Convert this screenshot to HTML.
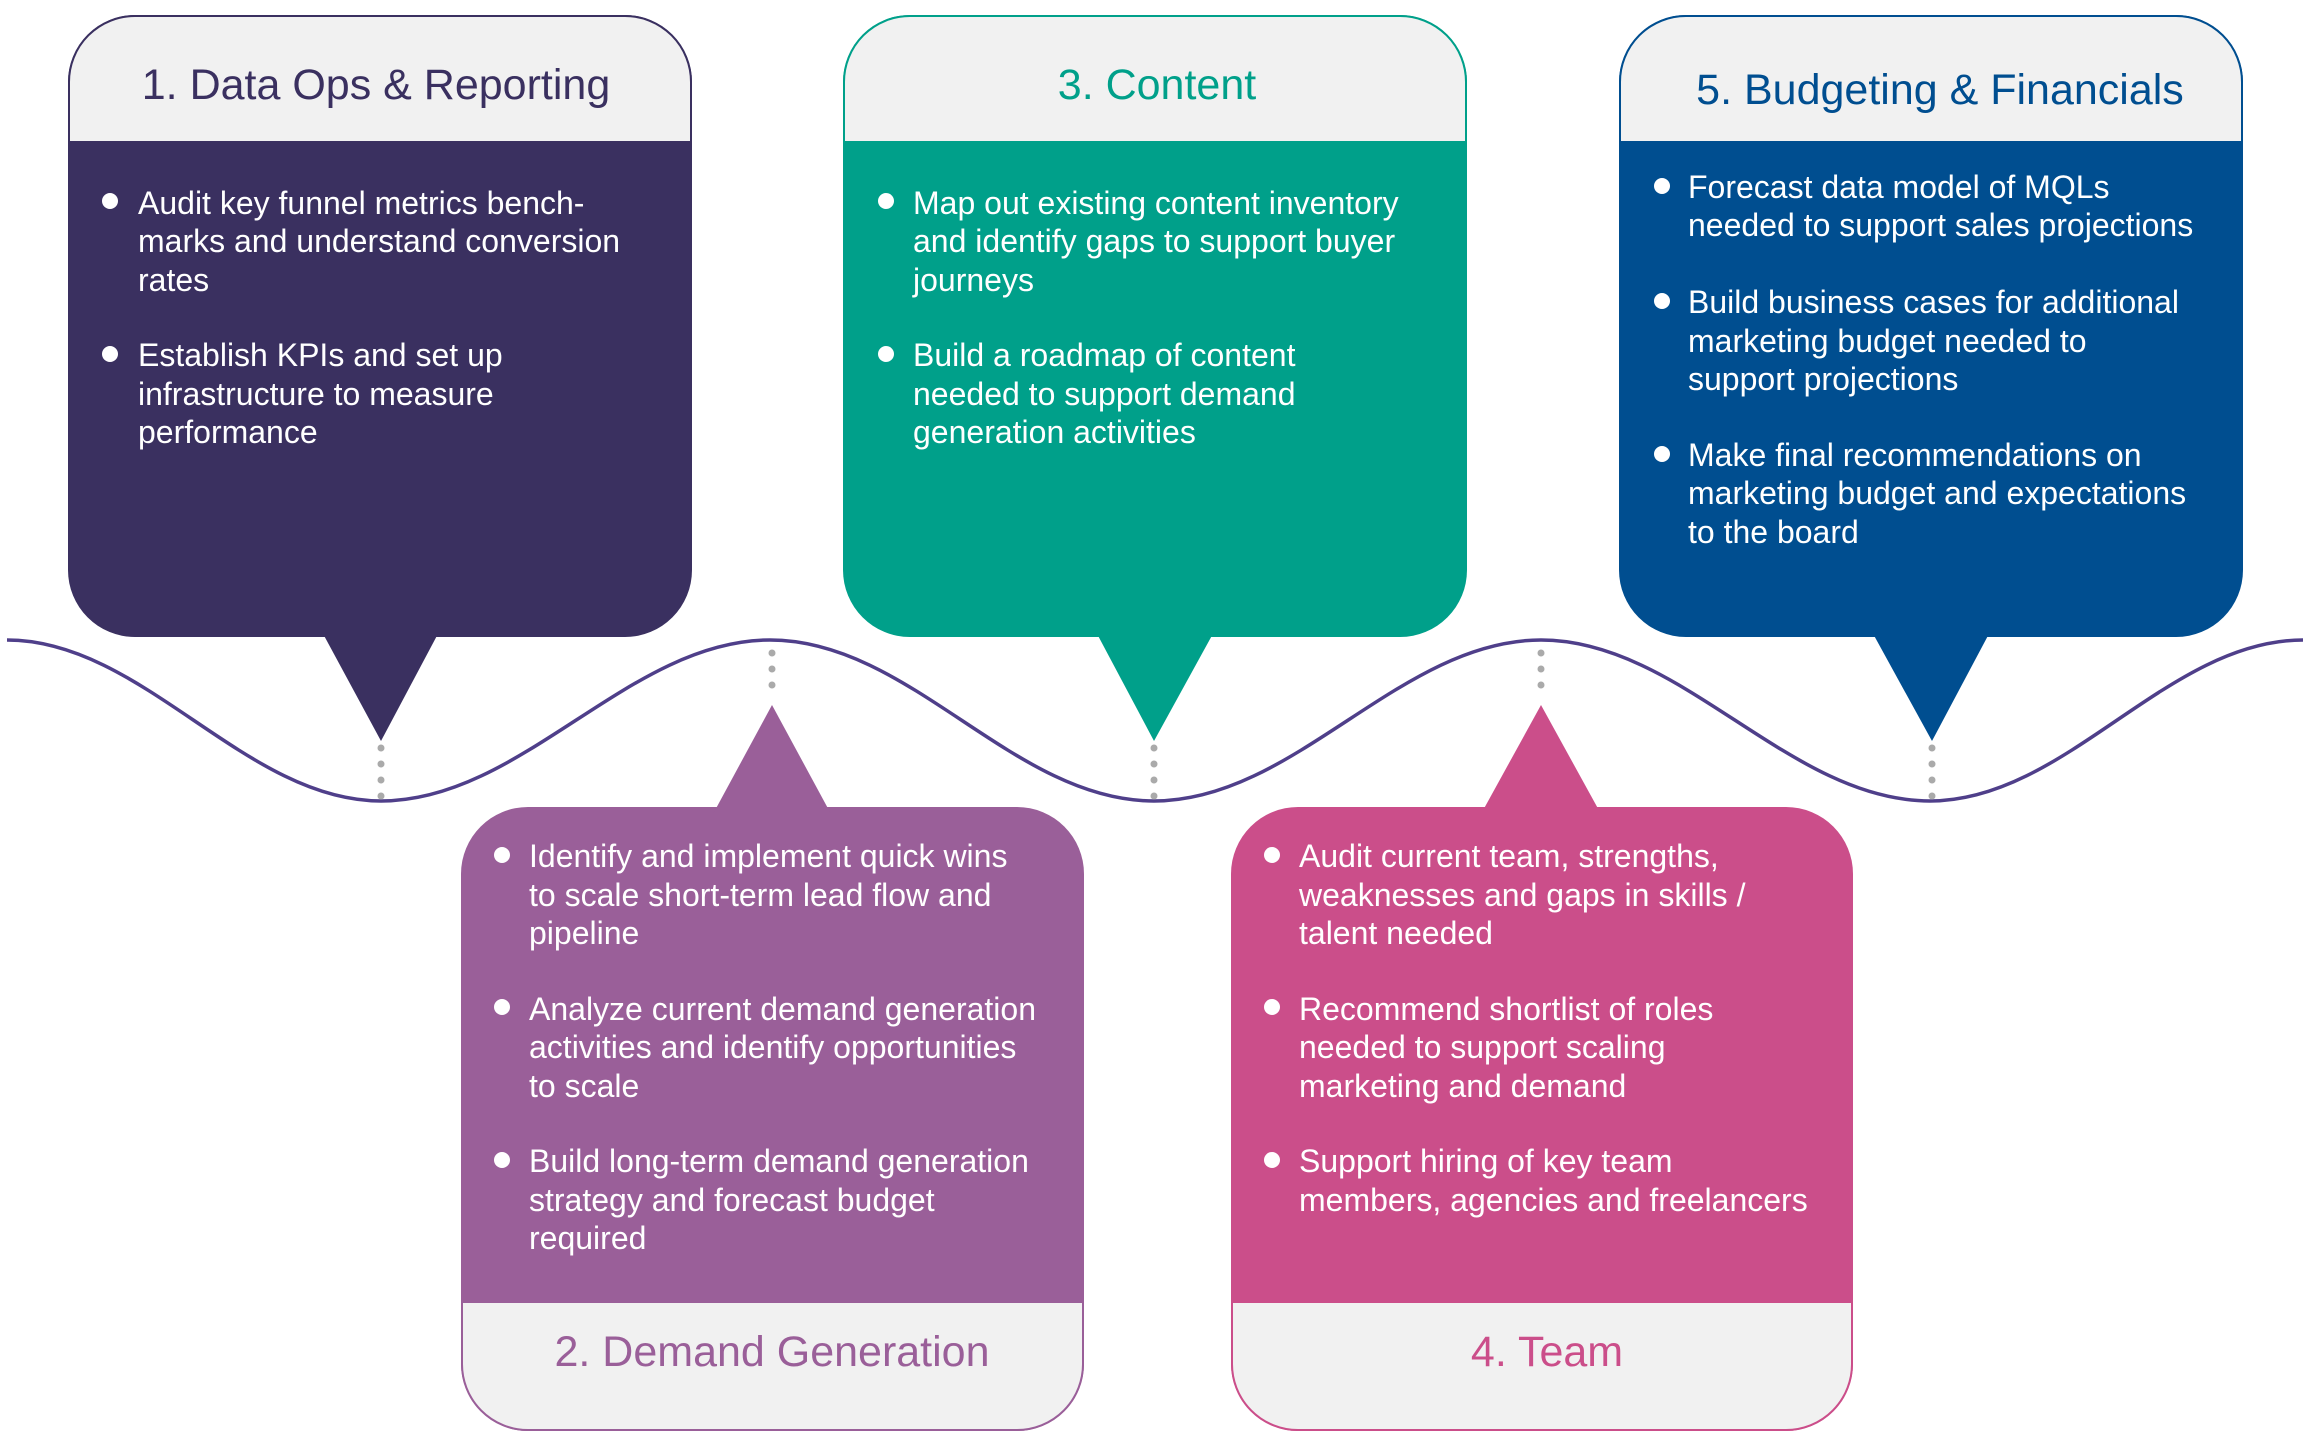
<!DOCTYPE html>
<html><head><meta charset="utf-8"><style>
html,body{margin:0;padding:0;background:#fff;}
svg{display:block;}
text{font-family:"Liberation Sans",sans-serif;}
.b{fill:#fff;font-size:32px;}
.t{font-size:43px;text-anchor:middle;}
</style></head><body>
<svg width="2311" height="1440" viewBox="0 0 2311 1440" xmlns="http://www.w3.org/2000/svg">
<path d="M7,640 C143,640 245,801 381,801 C522,801 629,640 770,640 C911,640 1013,801 1154,801 C1295,801 1400,640 1541,640 C1682,640 1789,801 1930,801 C2066,801 2167,640 2303,640" fill="none" stroke="#4f3f8a" stroke-width="3.5"/>
<g fill="#aaa">
<circle cx="381" cy="748" r="3.5"/><circle cx="381" cy="764" r="3.5"/><circle cx="381" cy="780" r="3.5"/><circle cx="381" cy="796" r="3.5"/>
<circle cx="1154" cy="748" r="3.5"/><circle cx="1154" cy="764" r="3.5"/><circle cx="1154" cy="780" r="3.5"/><circle cx="1154" cy="796" r="3.5"/>
<circle cx="1932" cy="748" r="3.5"/><circle cx="1932" cy="764" r="3.5"/><circle cx="1932" cy="780" r="3.5"/><circle cx="1932" cy="796" r="3.5"/>
<circle cx="772" cy="653" r="3.5"/><circle cx="772" cy="669" r="3.5"/><circle cx="772" cy="685" r="3.5"/>
<circle cx="1541" cy="653" r="3.5"/><circle cx="1541" cy="669" r="3.5"/><circle cx="1541" cy="685" r="3.5"/>
</g>

<rect x="68" y="15" width="624" height="622" rx="67" fill="#3a3060"/>
<polygon points="321,630 440,630 381,741" fill="#3a3060"/>
<path d="M69,142 V82 A66,66 0 0 1 135,16 H625 A66,66 0 0 1 691,82 V142 Z" fill="#f1f1f1" stroke="#3a3060" stroke-width="2"/>
<text class="t" x="376" y="99" fill="#3a3060">1. Data Ops &amp; Reporting</text>
<circle cx="110" cy="201" r="8" fill="#fff"/><circle cx="110" cy="354" r="8" fill="#fff"/>
<text class="b" x="138" y="214">Audit key funnel metrics bench-</text>
<text class="b" x="138" y="252">marks and understand conversion</text>
<text class="b" x="138" y="291">rates</text>
<text class="b" x="138" y="366">Establish KPIs and set up</text>
<text class="b" x="138" y="405">infrastructure to measure</text>
<text class="b" x="138" y="443">performance</text>

<rect x="843" y="15" width="624" height="622" rx="67" fill="#00a08a"/>
<polygon points="1095,630 1215,630 1154,741" fill="#00a08a"/>
<path d="M844,142 V82 A66,66 0 0 1 910,16 H1400 A66,66 0 0 1 1466,82 V142 Z" fill="#f1f1f1" stroke="#00a08a" stroke-width="2"/>
<text class="t" x="1157" y="99" fill="#00a08a">3. Content</text>
<circle cx="886" cy="201" r="8" fill="#fff"/><circle cx="886" cy="354" r="8" fill="#fff"/>
<text class="b" x="913" y="214">Map out existing content inventory</text>
<text class="b" x="913" y="252">and identify gaps to support buyer</text>
<text class="b" x="913" y="291">journeys</text>
<text class="b" x="913" y="366">Build a roadmap of content</text>
<text class="b" x="913" y="405">needed  to support demand</text>
<text class="b" x="913" y="443">generation activities</text>

<rect x="1619" y="15" width="624" height="622" rx="67" fill="#004e90"/>
<polygon points="1871,630 1991,630 1932,741" fill="#004e90"/>
<path d="M1620,142 V82 A66,66 0 0 1 1686,16 H2176 A66,66 0 0 1 2242,82 V142 Z" fill="#f1f1f1" stroke="#004e90" stroke-width="2"/>
<text class="t" x="1940" y="104" fill="#004e90">5. Budgeting &amp; Financials</text>
<circle cx="1662" cy="186" r="8" fill="#fff"/><circle cx="1662" cy="301" r="8" fill="#fff"/><circle cx="1662" cy="454" r="8" fill="#fff"/>
<text class="b" x="1688" y="198">Forecast data model of MQLs</text>
<text class="b" x="1688" y="236">needed to support sales projections</text>
<text class="b" x="1688" y="313">Build business cases for additional</text>
<text class="b" x="1688" y="352">marketing budget needed to</text>
<text class="b" x="1688" y="390">support projections</text>
<text class="b" x="1688" y="466">Make final recommendations on</text>
<text class="b" x="1688" y="504">marketing budget and expectations</text>
<text class="b" x="1688" y="543">to the board</text>

<rect x="461" y="807" width="623" height="624" rx="67" fill="#9a5f99"/>
<polygon points="713,814 831,814 772,705" fill="#9a5f99"/>
<path d="M462,1302 V1363 A66,66 0 0 0 528,1430 H1017 A66,66 0 0 0 1083,1363 V1302 Z" fill="#f1f1f1" stroke="#9a5f99" stroke-width="2"/>
<text class="t" x="772" y="1366" fill="#9a5f99">2. Demand Generation</text>
<circle cx="502" cy="855" r="8" fill="#fff"/><circle cx="502" cy="1007" r="8" fill="#fff"/><circle cx="502" cy="1160" r="8" fill="#fff"/>
<text class="b" x="529" y="867">Identify and implement quick wins</text>
<text class="b" x="529" y="906">to scale short-term lead flow and</text>
<text class="b" x="529" y="944">pipeline</text>
<text class="b" x="529" y="1020">Analyze current demand generation</text>
<text class="b" x="529" y="1058">activities and identify opportunities</text>
<text class="b" x="529" y="1097">to scale</text>
<text class="b" x="529" y="1172">Build long-term demand generation</text>
<text class="b" x="529" y="1211">strategy and forecast budget</text>
<text class="b" x="529" y="1249">required</text>

<rect x="1231" y="807" width="622" height="624" rx="67" fill="#cb4e8a"/>
<polygon points="1481,814 1601,814 1541,705" fill="#cb4e8a"/>
<path d="M1232,1302 V1363 A66,66 0 0 0 1298,1430 H1786 A66,66 0 0 0 1852,1363 V1302 Z" fill="#f1f1f1" stroke="#cb4e8a" stroke-width="2"/>
<text class="t" x="1547" y="1366" fill="#cb4e8a">4. Team</text>
<circle cx="1272" cy="855" r="8" fill="#fff"/><circle cx="1272" cy="1007" r="8" fill="#fff"/><circle cx="1272" cy="1160" r="8" fill="#fff"/>
<text class="b" x="1299" y="867">Audit current team, strengths,</text>
<text class="b" x="1299" y="906">weaknesses and gaps in skills /</text>
<text class="b" x="1299" y="944">talent needed</text>
<text class="b" x="1299" y="1020">Recommend shortlist of roles</text>
<text class="b" x="1299" y="1058">needed to support scaling</text>
<text class="b" x="1299" y="1097">marketing and demand</text>
<text class="b" x="1299" y="1172">Support hiring  of key team</text>
<text class="b" x="1299" y="1211">members, agencies and freelancers</text>
</svg>
</body></html>
